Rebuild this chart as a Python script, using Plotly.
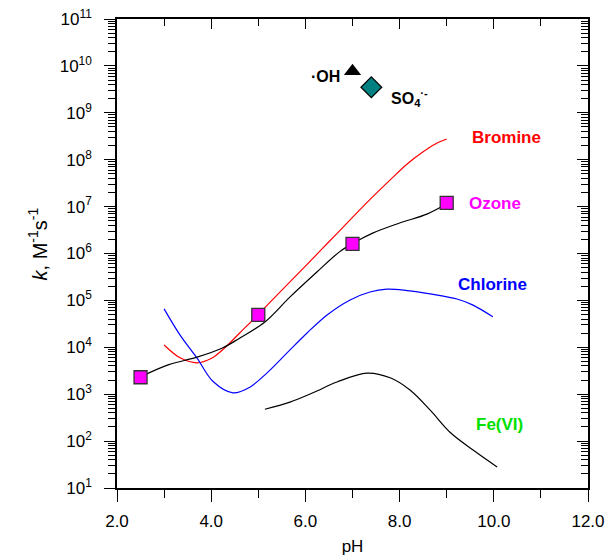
import plotly.graph_objects as go

# ---------------- data ----------------
ozone_pts_ph = [2.5, 5.0, 7.0, 9.0]
ozone_pts_k = [2.3e3, 4.9e4, 1.6e6, 1.2e7]

ozone_curve_ph = [2.5, 3.1, 3.7, 4.25, 4.61, 5.14, 5.67, 6.25, 6.73, 7.05, 7.44, 8.0, 8.58, 9.0]
ozone_curve_logk = [3.37, 3.63, 3.79, 3.99, 4.20, 4.54, 5.07, 5.61, 6.04, 6.24, 6.44, 6.65, 6.84, 7.06]

bromine_ph = [3.0, 3.35, 3.7, 4.0, 4.3, 4.6, 5.0, 5.5, 6.0, 6.5, 7.0, 7.4, 7.8, 8.16, 8.5, 8.75, 9.0]
bromine_logk = [4.05, 3.77, 3.67, 3.76, 4.0, 4.3, 4.70, 5.22, 5.73, 6.25, 6.77, 7.18, 7.57, 7.91, 8.17, 8.33, 8.44]

chlorine_ph = [3.0, 3.34, 3.7, 4.04, 4.46, 4.82, 5.18, 5.61, 6.03, 6.46, 6.95, 7.37, 7.73, 8.16, 8.65, 9.22, 9.56, 9.98]
chlorine_logk = [4.82, 4.26, 3.77, 3.27, 3.03, 3.15, 3.45, 3.88, 4.30, 4.69, 5.01, 5.18, 5.24, 5.21, 5.14, 5.03, 4.90, 4.65]

fevi_ph = [5.14, 5.67, 6.16, 6.67, 7.31, 7.80, 8.22, 8.65, 9.07, 9.56, 10.07]
fevi_logk = [2.68, 2.83, 3.03, 3.26, 3.45, 3.35, 3.09, 2.66, 2.19, 1.81, 1.45]

oh_ph = [7.0]
oh_k = [7.7e9]
so4_ph = [7.4]
so4_k = [3.5e9]

x_major = [2, 4, 6, 8, 10, 12]
x_major_text = ["2.0", "4.0", "6.0", "8.0", "10.0", "12.0"]
x_minor = [3, 5, 7, 9, 11]
y_exps = list(range(1, 12))

# ---------------- build ----------------
FONT = "Liberation Sans, Arial, sans-serif"
y_major = [10 ** e for e in y_exps]
y_major_text = ["10<sup>%d</sup>" % e for e in y_exps]
y_minor = [m * 10 ** e for e in y_exps[:-1] for m in range(2, 10)]

fig = go.Figure()

def curve(ph, logk, color):
    fig.add_trace(go.Scatter(x=ph, y=[10 ** v for v in logk], mode="lines",
                             line=dict(color=color, width=1.2, shape="spline", smoothing=1.0),
                             showlegend=False, hoverinfo="skip"))

curve(bromine_ph, bromine_logk, "#ff0000")
curve(chlorine_ph, chlorine_logk, "#0000ff")
curve(fevi_ph, fevi_logk, "#000000")
curve(ozone_curve_ph, ozone_curve_logk, "#000000")

fig.add_trace(go.Scatter(x=ozone_pts_ph, y=ozone_pts_k, mode="markers",
                         marker=dict(symbol="square", size=13, color="#ff00ff",
                                     line=dict(color="#333333", width=1.3)),
                         showlegend=False))
fig.add_trace(go.Scatter(x=oh_ph, y=oh_k, mode="markers",
                         marker=dict(symbol="triangle-up", size=15, color="#000000"),
                         showlegend=False))
fig.add_trace(go.Scatter(x=so4_ph, y=so4_k, mode="markers",
                         marker=dict(symbol="diamond", size=16, color="#008080",
                                     line=dict(color="#000000", width=1.2)),
                         showlegend=False))
# helper trace for mirrored axes
fig.add_trace(go.Scatter(x=[2], y=[10], xaxis="x2", yaxis="y2", mode="markers",
                         marker=dict(opacity=0), showlegend=False, hoverinfo="skip"))

def lab(x, y, text, color, size=17, xanchor="center"):
    fig.add_annotation(x=x, y=y, text=text, showarrow=False, xanchor=xanchor,
                       font=dict(family=FONT, size=size, color=color))

lab(10.28, 8.48, "<b>Bromine</b>", "#ff0000")
lab(10.03, 7.07, "<b>Ozone</b>", "#ff00ff")
lab(9.98, 5.33, "<b>Chlorine</b>", "#0000ff")
lab(10.12, 2.36, "<b>Fe(VI)</b>", "#00e000")
lab(6.42, 9.78, "<b>·OH</b>", "#000000", size=16)
lab(8.2, 9.32, "<b>SO<sub>4</sub><sup>·-</sup></b>", "#000000", size=16)

fig.add_annotation(xref="paper", yref="paper", x=-0.2, y=0.52,
                   text="<i>k</i>, M<sup>-1</sup>s<sup>-1</sup>", textangle=-90,
                   showarrow=False, font=dict(family=FONT, size=20, color="black"))

common = dict(showgrid=False, zeroline=False, showline=True, linecolor="black",
              linewidth=1.5, tickcolor="black", tickwidth=1.2)

fig.update_layout(
    width=608, height=559,
    margin=dict(l=117, r=20, t=19, b=71, autoexpand=False),
    paper_bgcolor="white", plot_bgcolor="white",
    font=dict(family=FONT, size=17, color="black"),
    xaxis=dict(range=[2, 12], tickmode="array", tickvals=x_major, ticktext=x_major_text,
               ticks="outside", ticklen=12, tickfont=dict(size=17), mirror=True,
               minor=dict(tickmode="array", tickvals=x_minor, ticks="outside", ticklen=8,
                          tickcolor="black", tickwidth=1.2),
               title=dict(text="pH", font=dict(size=17), standoff=10),
               ticklabelstandoff=5, ticklabeloverflow="allow", **common),
    yaxis=dict(type="log", range=[1, 11], tickmode="array", tickvals=y_major,
               ticktext=y_major_text, ticks="outside", ticklen=11, tickfont=dict(size=17),
               mirror=True,
               minor=dict(tickmode="array", tickvals=y_minor, ticks="outside", ticklen=7,
                          tickcolor="black", tickwidth=1),
               ticklabelstandoff=9, ticklabeloverflow="allow", **common),
    xaxis2=dict(range=[2, 12], overlaying="x", anchor="y", side="top", tickmode="array",
                tickvals=x_major, showticklabels=False, ticks="inside", ticklen=10,
                minor=dict(tickmode="array", tickvals=x_minor, ticks="inside", ticklen=7,
                           tickcolor="black", tickwidth=1.2),
                **common),
    yaxis2=dict(type="log", range=[1, 11], overlaying="y", anchor="x", side="right",
                tickmode="array",
                tickvals=y_major, showticklabels=False, ticks="inside", ticklen=11,
                minor=dict(tickmode="array", tickvals=y_minor, ticks="inside", ticklen=7,
                           tickcolor="black", tickwidth=1),
                **common),
)

fig.write_html("out.html",
               config={"displayModeBar": False},
               post_script="document.body.style.margin='0';"
                           "document.documentElement.style.overflow='hidden';"
                           "document.body.style.overflow='hidden';")
